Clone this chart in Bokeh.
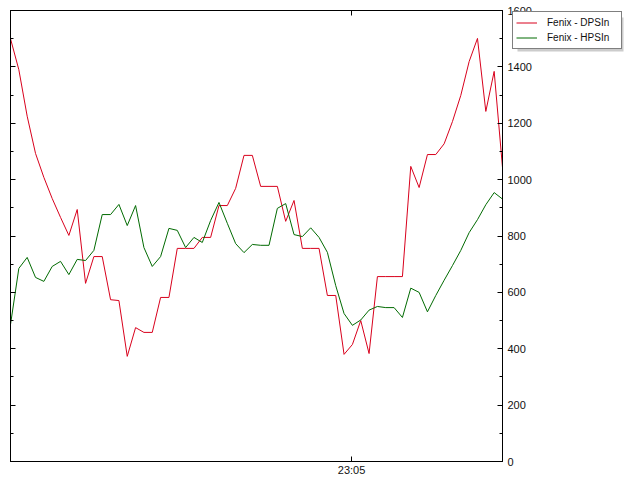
from bokeh.plotting import figure
from bokeh.models import (Range1d, LinearAxis, FixedTicker, SingleIntervalTicker,
                          Legend, LegendItem, BoxAnnotation)
from bokeh.embed import file_html
from bokeh.resources import INLINE

# sample times (seconds of day), 5 s sampling starting ~23:01:35
start_time = 23 * 3600 + 1 * 60 + 35.5
step = 5
dps = [1500, 1390, 1225, 1093, 1008, 933, 866, 802, 894, 632,
       727, 727, 574, 571, 373, 475, 458, 458, 582, 582,
       756, 756, 756, 795, 795, 908, 908, 969, 1086, 1086,
       976, 976, 976, 852, 926, 756, 756, 756, 589, 589,
       380, 415, 500, 383, 656, 656, 656, 656, 1047, 972,
       1089, 1089, 1127, 1206, 1299, 1419, 1501, 1242, 1384, 1043]
hps = [486, 685, 724, 653, 639, 692, 710, 663, 717, 713,
       749, 876, 876, 912, 837, 908, 759, 692, 727, 827,
       820, 759, 795, 777, 855, 919, 845, 773, 741, 770,
       767, 767, 898, 915, 805, 798, 829, 795, 742, 624,
       525, 483, 502, 537, 550, 546, 546, 511, 615, 600,
       531, 589, 643, 695, 749, 812, 858, 911, 954, 931]
times = [start_time + step * i for i in range(len(dps))]
tick_time = 23 * 3600 + 5 * 60
tick_label = "23:05"
series_names = ["Fenix - DPSIn", "Fenix - HPSIn"]
series_colors = ["#d8001c", "#006a00"]
y_ticks_interval = 200

FONT = "Liberation Sans"

p = figure(frame_width=492, frame_height=451, output_backend="svg",
           toolbar_location=None, x_axis_type=None, y_axis_location="right",
           x_range=Range1d(times[0], times[-1]), y_range=Range1d(0, 1600),
           min_border_left=10, min_border_top=10, min_border_right=123,
           min_border_bottom=18)
p.xgrid.visible = False
p.ygrid.visible = False
p.outline_line_color = "black"
p.background_fill_color = "white"
p.border_fill_color = "white"

def style_axis(ax):
    ax.axis_line_color = "black"
    ax.major_tick_line_color = "black"
    ax.minor_tick_line_color = "black"
    ax.major_tick_in = 5
    ax.major_tick_out = 0
    ax.minor_tick_in = 3
    ax.minor_tick_out = 0
    ax.major_label_text_font = FONT
    ax.major_label_text_color = "#111111"
    ax.major_label_text_font_size = "11px"
    ax.major_label_standoff = 4

# right y-axis (the default one)
yr = p.yaxis[0]
yr.ticker = SingleIntervalTicker(interval=y_ticks_interval, num_minor_ticks=2)
style_axis(yr)
yr.major_label_standoff = 5

yl = LinearAxis(ticker=SingleIntervalTicker(interval=y_ticks_interval, num_minor_ticks=2),
                major_label_overrides={v: "" for v in range(0, 1601, y_ticks_interval)})
style_axis(yl)
yl.major_label_standoff = 0
p.add_layout(yl, "left")

xb = LinearAxis(ticker=FixedTicker(ticks=[tick_time], minor_ticks=[]),
                major_label_overrides={tick_time: tick_label})
style_axis(xb)
xb.major_label_standoff = 2
p.add_layout(xb, "below")

xt = LinearAxis(ticker=FixedTicker(ticks=[tick_time], minor_ticks=[]),
                major_label_overrides={tick_time: ""})
style_axis(xt)
xt.major_label_standoff = 0
p.add_layout(xt, "above")

p.line(times, dps, line_color=series_colors[0], line_width=1)
p.line(times, hps, line_color=series_colors[1], line_width=1)

# legend lives in a small transparent overlay figure placed over the axis area
P2W, P2H = 115, 60
p2 = figure(width=P2W, height=P2H, output_backend="svg", title=None,
            toolbar_location=None, x_axis_type=None, y_axis_type=None,
            x_range=Range1d(0, 1), y_range=Range1d(0, 1),
            min_border=0, min_border_left=0, min_border_right=0,
            min_border_top=0, min_border_bottom=0)
p2.xgrid.visible = False
p2.ygrid.visible = False
p2.outline_line_color = None
p2.background_fill_alpha = 0
p2.border_fill_alpha = 0
p2.styles = {"position": "absolute", "left": "511px", "top": "0px"}

# same series, out of this overlay's view; they only feed the legend swatches
l1 = p2.line(times, dps, line_color=series_colors[0], line_width=1)
l2 = p2.line(times, hps, line_color=series_colors[1], line_width=1)

shadow = BoxAnnotation(left=6, right=112, bottom=P2H - 51, top=P2H - 17,
                       left_units="screen", right_units="screen",
                       top_units="screen", bottom_units="screen",
                       fill_color="#cccccc", fill_alpha=1, line_color=None,
                       level="underlay")
p2.add_layout(shadow)

lg = Legend(items=[LegendItem(label=series_names[0], renderers=[l1]),
                   LegendItem(label=series_names[1], renderers=[l2])],
            location=(1, P2H - 13 - 36))
lg.border_line_color = "black"
lg.border_line_width = 1
lg.background_fill_color = "white"
lg.background_fill_alpha = 1
lg.label_text_font = FONT
lg.label_text_font_size = "10px"
lg.label_text_color = "#111111"
lg.glyph_width = 21
lg.glyph_height = 15
lg.label_height = 15
lg.label_width = 71
lg.spacing = 0
lg.padding = 3
lg.margin = 0
lg.label_standoff = 10
p2.add_layout(lg)

open("out.html", "w").write(file_html([p, p2], INLINE))
